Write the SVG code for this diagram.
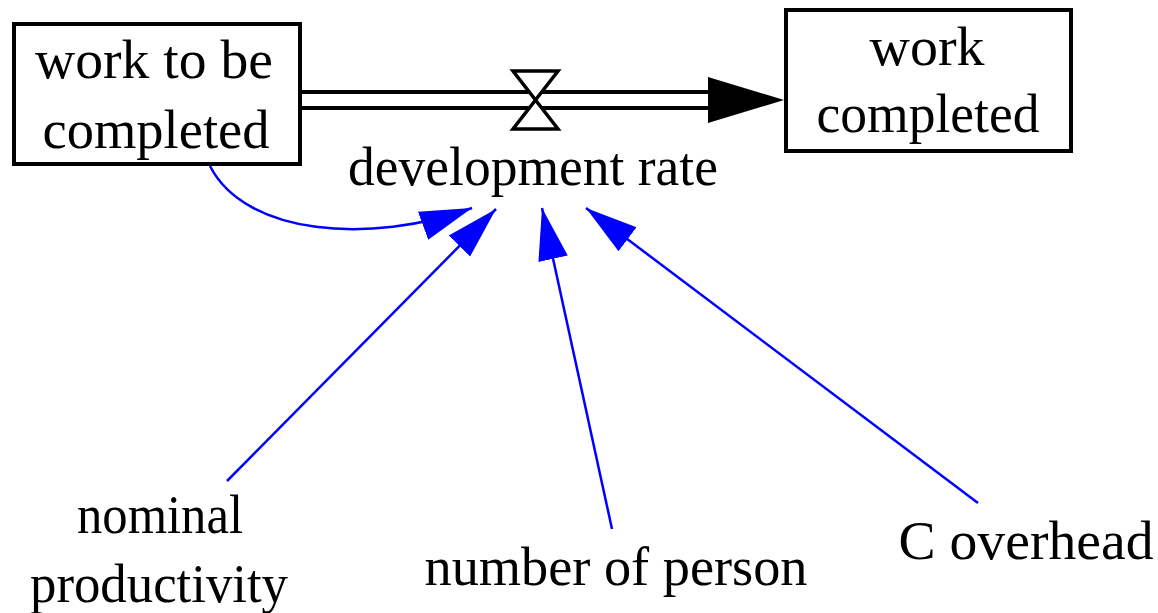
<svg xmlns="http://www.w3.org/2000/svg" width="1158" height="613" viewBox="0 0 1158 613">
  <style>
    .lbl { font-family: "Liberation Serif", "Times New Roman", serif; font-size: 54px; fill: #000; text-anchor: middle; }
    .box { fill: #fff; stroke: #000; stroke-width: 4; }
    .pipe { stroke: #000; stroke-width: 4; fill: none; }
    .link { stroke: #0000ff; stroke-width: 2.5; fill: none; marker-end: url(#blueArrow); }
  </style>
  <defs>
    <marker id="blueArrow" markerUnits="userSpaceOnUse" markerWidth="52" markerHeight="32" viewBox="0 0 52 32" refX="52" refY="16" orient="auto">
      <path d="M0,1 L52,16 L0,31 Z" fill="#0000ff"/>
    </marker>
  </defs>
  <rect width="1158" height="613" fill="#fff"/>

  <g id="connectors">
    <path class="link" d="M210,166 C245,235 370,245 472,208"/>
    <path class="link" d="M227,481 L496,209"/>
    <path class="link" d="M612,529 L542,208"/>
    <path class="link" d="M978,503 L586,208"/>
  </g>

  <g id="flow-development-rate">
    <line class="pipe" x1="302" y1="92" x2="712" y2="92"/>
    <line class="pipe" x1="302" y1="108" x2="712" y2="108"/>
    <polygon points="708,77 784,100 708,123" fill="#000"/>
    <path d="M513,71 L558,71 L535.5,100 L558,129 L513,129 L535.5,100 Z" fill="#fff" stroke="#000" stroke-width="3.5" stroke-linejoin="miter"/>
    <text class="lbl" x="533" y="185" textLength="370" lengthAdjust="spacingAndGlyphs">development rate</text>
  </g>

  <g id="stock-work-to-be-completed">
    <rect class="box" x="14" y="24" width="286" height="140"/>
    <text class="lbl" x="154" y="78" textLength="238" lengthAdjust="spacingAndGlyphs">work to be</text>
    <text class="lbl" x="156" y="148" textLength="227" lengthAdjust="spacingAndGlyphs">completed</text>
  </g>

  <g id="stock-work-completed">
    <rect class="box" x="786" y="10" width="285" height="141"/>
    <text class="lbl" x="927" y="65" textLength="115" lengthAdjust="spacingAndGlyphs">work</text>
    <text class="lbl" x="928" y="132" textLength="223" lengthAdjust="spacingAndGlyphs">completed</text>
  </g>

  <g id="nominal-productivity">
    <text class="lbl" x="160" y="533" textLength="166" lengthAdjust="spacingAndGlyphs">nominal</text>
    <text class="lbl" x="159" y="602" textLength="258" lengthAdjust="spacingAndGlyphs">productivity</text>
  </g>

  <g id="number-of-person">
    <text class="lbl" x="616" y="585" textLength="383" lengthAdjust="spacingAndGlyphs">number of person</text>
  </g>

  <g id="c-overhead">
    <text class="lbl" x="1026" y="559" textLength="255" lengthAdjust="spacingAndGlyphs">C overhead</text>
  </g>
</svg>
